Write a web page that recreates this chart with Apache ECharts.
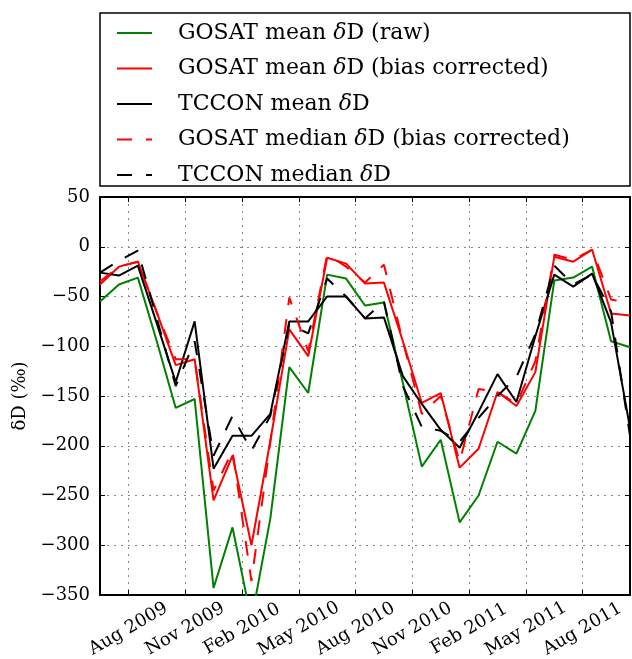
<!DOCTYPE html>
<html><head><meta charset="utf-8">
<script src="https://cdn.jsdelivr.net/npm/echarts@6/dist/echarts.min.js"></script>
<style>html,body{margin:0;padding:0;background:#fff}#c{width:632px;height:659px}</style>
</head><body><div id="c"></div>
<script>
const months = ['2009-06','2009-07','2009-08','2009-09','2009-10','2009-11','2009-12',
  '2010-01','2010-02','2010-03','2010-04','2010-05','2010-06','2010-07','2010-08','2010-09','2010-10','2010-11','2010-12',
  '2011-01','2011-02','2011-03','2011-04','2011-05','2011-06','2011-07','2011-08','2011-09','2011-10'];
const gosatRaw    = [-55,-38,-31,-95,-162,-153,-343,-282,-375,-273,-121,-147,-28,-32,-59,-56,-137,-221,-194,-277,-250,-196,-208,-165,-34,-31,-20,-95,-101];
const gosatCorr   = [-38,-20,-15,-66,-119,-113,-255,-210,-300,-195,-83,-110,-11,-17,-37,-36,-95,-157,-147,-222,-203,-146,-160,-126,-10,-15,-3,-67,-69];
const tcconMean   = [-26,-29,-19,-77,-136,-75,-223,-190,-190,-168,-75,-75,-50,-50,-72,-71,-130,-158,-184,-202,-166,-128,-156,-90,-28,-40,-27,-76,-182];
const gosatMedian = [-35,-20,-15,-66,-113,-113,-245,-205,-336,-196,-51,-105,-8,-20,-36,-18,-95,-168,-150,-216,-143,-146,-158,-115,-8,-13,-3,-53,-57];
const tcconMedian = [-26,-14,-4,-72,-140,-95,-210,-170,-205,-170,-78,-87,-32,-50,-72,-55,-140,-181,-185,-196,-172,-150,-131,-88,-19,-38,-28,-65,-190];
const tickMonths = ['2009-08','2009-11','2010-02','2010-05','2010-08','2010-11','2011-02','2011-05','2011-08'];
const tickLabels = ['Aug 2009','Nov 2009','Feb 2010','May 2010','Aug 2010','Nov 2010','Feb 2011','May 2011','Aug 2011'];
const seriesNames = ['GOSAT mean δD (raw)','GOSAT mean δD (bias corrected)','TCCON mean δD','GOSAT median δD (bias corrected)','TCCON median δD'];

function monthIndex(s){ const p = s.split('-').map(Number); return (p[0]-2009)*12 + (p[1]-8); }
const xs = months.map(s => monthIndex(s) + 0.5);
const tickVals = tickMonths.map(monthIndex);
const pair = arr => arr.map((v,i) => [xs[i], v]);

const FONT = 'DejaVu Serif';
const xMin = xs[0], xMax = xs[xs.length-1];

function mkSeries(name, data, color, dashed){
  return {name, type:'line', data: pair(data), symbol:'none', clip:true,
    lineStyle:{color, width:2, type: dashed ? [15,14] : 'solid'}, itemStyle:{color},
    emphasis:{disabled:true}, animation:false};
}

const chart = echarts.init(document.getElementById('c'), null, {renderer:'canvas'});
chart.setOption({
  animation:false,
  backgroundColor:'#fff',
  grid:{left:100, right:2, top:197, bottom:64, containLabel:false, outerBoundsMode:'none'},
  graphic:[{type:'rect', z:0, silent:true, shape:{x:100, y:13, width:530, height:173},
    style:{fill:'#fff', stroke:'#000', lineWidth:1.5}}],
  legend:{
    z:5, orient:'vertical', left:116, top:22, padding:0,
    itemWidth:35, itemHeight:22, itemGap:13.5,
    data: seriesNames,
    itemStyle:{color:'rgba(0,0,0,0)', borderWidth:0, opacity:0},
    formatter: n => n.replace('δ','{i|δ}'),
    textStyle:{fontFamily:FONT, fontSize:22, color:'#000', padding:[0,0,0,21],
      rich:{i:{fontFamily:FONT, fontSize:22, fontStyle:'italic', color:'#000'}}}
  },
  xAxis:[{
    type:'value', min:xMin, max:xMax,
    axisLine:{show:true, onZero:false, lineStyle:{color:'#000', width:2}},
    axisTick:{show:true, inside:true, length:5, customValues:tickVals, lineStyle:{color:'#000', width:1}},
    axisLabel:{customValues:tickVals, rotate:30, align:'center', verticalAlign:'middle', margin:34,
      fontFamily:FONT, fontSize:18, color:'#000',
      formatter: v => { const k = tickVals.indexOf(v); return k >= 0 ? tickLabels[k] : ''; }},
    splitLine:{show:true, lineStyle:{color:'#888', width:1, type:[2,5]}}
  },{
    type:'value', position:'top', min:xMin, max:xMax,
    axisLine:{show:true, onZero:false, lineStyle:{color:'#000', width:2}},
    axisTick:{show:true, inside:true, length:5, customValues:tickVals, lineStyle:{color:'#000', width:1}},
    axisLabel:{show:false}, splitLine:{show:false}
  }],
  yAxis:[{
    type:'value', min:-350, max:50, interval:50,
    name:'δD (‰)', nameLocation:'middle', nameRotate:90, nameGap:70,
    nameTextStyle:{fontFamily:FONT, fontSize:18, color:'#000'},
    axisLine:{show:true, onZero:false, lineStyle:{color:'#000', width:2}},
    axisTick:{show:true, inside:true, length:5, lineStyle:{color:'#000', width:1}},
    axisLabel:{margin:10, fontFamily:FONT, fontSize:18, color:'#000',
      formatter: v => String(v).replace('-','\u2212')},
    splitLine:{show:true, lineStyle:{color:'#888', width:1, type:[2,5]}}
  },{
    type:'value', position:'right', min:-350, max:50, interval:50,
    axisLine:{show:true, onZero:false, lineStyle:{color:'#000', width:2}},
    axisTick:{show:true, inside:true, length:5, lineStyle:{color:'#000', width:1}},
    axisLabel:{show:false}, splitLine:{show:false}
  }],
  series:[
    mkSeries(seriesNames[0], gosatRaw, '#008000', false),
    mkSeries(seriesNames[1], gosatCorr, '#ff0000', false),
    mkSeries(seriesNames[2], tcconMean, '#000000', false),
    mkSeries(seriesNames[3], gosatMedian, '#ff0000', true),
    mkSeries(seriesNames[4], tcconMedian, '#000000', true)
  ]
});
</script></body></html>
